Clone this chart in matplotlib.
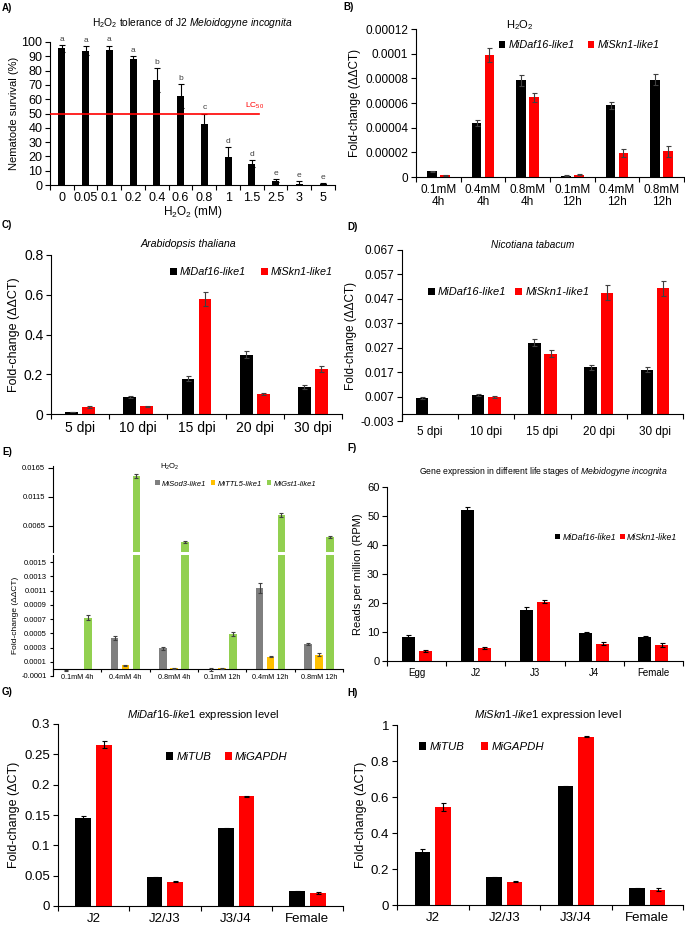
import matplotlib
matplotlib.use('Agg')
import matplotlib.pyplot as plt
from matplotlib.patches import Patch
import numpy as np

plt.rcParams['font.family'] = ['Liberation Sans', 'DejaVu Sans']
plt.rcParams['mathtext.fontset'] = 'custom'
plt.rcParams['mathtext.rm'] = 'Liberation Sans'
plt.rcParams['mathtext.it'] = 'Liberation Sans:italic'
plt.rcParams['mathtext.bf'] = 'Liberation Sans:bold'

# A) H2O2 tolerance
A_conc = ['0', '0.05', '0.1', '0.2', '0.4', '0.6', '0.8', '1', '1.5', '2.5', '3', '5']
A_surv = [95.5, 94, 94.5, 88, 73.5, 62, 43, 19.5, 15, 3, 1, 1]
A_err = [2.5, 3, 3, 2, 8.5, 8.5, 7, 7, 2.5, 1, 1.5, 0.5]
A_letters = ['a', 'a', 'a', 'a', 'b', 'b', 'c', 'd', 'd', 'e', 'e', 'e']
LC50 = 50

# B) H2O2 treatment
B_cats = ['0.1mM\n4h', '0.4mM\n4h', '0.8mM\n4h', '0.1mM\n12h', '0.4mM\n12h', '0.8mM\n12h']
B_daf = [4.5e-6, 43.5e-6, 78.5e-6, 1e-6, 58e-6, 79e-6]
B_daf_err = [0.5e-6, 2.5e-6, 4.5e-6, 0.5e-6, 2.5e-6, 4.5e-6]
B_skn = [1.5e-6, 99e-6, 64.5e-6, 2e-6, 19.5e-6, 21e-6]
B_skn_err = [0.5e-6, 5.5e-6, 4e-6, 0.3e-6, 3.5e-6, 4.5e-6]

# C) Arabidopsis
dpi_cats = ['5 dpi', '10 dpi', '15 dpi', '20 dpi', '30 dpi']
C_daf = [0.010, 0.085, 0.178, 0.298, 0.136]
C_daf_err = [0.002, 0.005, 0.012, 0.018, 0.010]
C_skn = [0.035, 0.038, 0.580, 0.102, 0.228]
C_skn_err = [0.004, 0.004, 0.035, 0.006, 0.015]

# D) Nicotiana
D_daf = [0.0065, 0.0075, 0.029, 0.019, 0.018]
D_daf_err = [0.0004, 0.0004, 0.0015, 0.001, 0.001]
D_skn = [np.nan, 0.0067, 0.0245, 0.0495, 0.0513]
D_skn_err = [np.nan, 0.0004, 0.0015, 0.003, 0.003]

# E) antioxidant genes under H2O2
E_cats = ['0.1mM 4h', '0.4mM 4h', '0.8mM 4h', '0.1mM 12h', '0.4mM 12h', '0.8mM 12h']
E_sod = [-0.00002, 0.00043, 0.00029, -0.00001, 0.00113, 0.00035]
E_sod_err = [0.00001, 0.00003, 0.00002, 0.00002, 0.00007, 0.00002]
E_ttl = [np.nan, 0.00005, 0.00001, 0.00001, 0.00017, 0.0002]
E_ttl_err = [np.nan, 0.000005, 0.000005, 0.000005, 0.00001, 0.00002]
E_gst = [0.00072, 0.0151, 0.0037, 0.00049, 0.0084, 0.0046]
E_gst_err = [0.00004, 0.0004, 0.0002, 0.00003, 0.0003, 0.0002]

# F) life stages RPM
F_stage = ['Egg', 'J2', 'J3', 'J4', 'Female']
F_daf = [8.2, 52, 17.5, 9.5, 8.2]
F_daf_err = [0.6, 1.0, 1.2, 0.5, 0.3]
F_skn = [3.4, 4.5, 20.5, 6.0, 5.5]
F_skn_err = [0.3, 0.3, 0.5, 0.5, 0.8]

# G) / H) expression level
GH_stage = ['J2', 'J2/J3', 'J3/J4', 'Female']
G_tub = [0.145, 0.047, 0.128, 0.024]
G_tub_err = [0.004, 0.001, 0.001, 0.001]
G_gapdh = [0.266, 0.040, 0.181, 0.021]
G_gapdh_err = [0.006, 0.001, 0.001, 0.002]
H_tub = [0.296, 0.155, 0.660, 0.093]
H_tub_err = [0.015, 0.003, 0.002, 0.004]
H_gapdh = [0.543, 0.130, 0.935, 0.085]
H_gapdh_err = [0.022, 0.003, 0.003, 0.008]

W, H = 685, 925
fig = plt.figure(figsize=(6.85, 9.25), dpi=100)
RED = '#ff0000'
GRAY = '#7f7f7f'
YEL = '#ffc000'
GRN = '#92d050'


def panel(l, t, r, b):
    return fig.add_axes([l / W, 1 - b / H, (r - l) / W, (b - t) / H])


def fmt(v):
    if abs(v) < 1e-12:
        return '0'
    return ('%.5f' % v).rstrip('0').rstrip('.')


def style(ax, labels, fs, yticks, ylim, xfs=None, tl=3.5, zero_axis=False, ylab=None):
    n = len(labels)
    for s in ['top', 'right']:
        ax.spines[s].set_visible(False)
    for s in ['left', 'bottom']:
        ax.spines[s].set_linewidth(0.8)
    if zero_axis:
        ax.spines['bottom'].set_position(('data', 0))
    ax.set_xlim(-0.5, n - 0.5)
    ax.set_ylim(*ylim)
    ax.set_xticks(np.arange(n))
    ax.set_xticklabels(labels, fontsize=xfs or fs, linespacing=1.0)
    ax.set_xticks(np.arange(n + 1) - 0.5, minor=True)
    ax.tick_params(axis='x', which='major', length=0, pad=5)
    ax.tick_params(axis='x', which='minor', length=tl, width=0.8, direction='out')
    ax.set_yticks(yticks)
    ax.set_yticklabels(ylab or [fmt(v) for v in yticks], fontsize=fs)
    ax.tick_params(axis='y', length=tl, width=0.8, pad=2)


def bars(ax, series, errs, colors, ecolor='#404040', width=0.22, step=0.29, capsize=1.8):
    k = len(series)
    x = np.arange(len(series[0]))
    for i, (vals, err, c) in enumerate(zip(series, errs, colors)):
        off = (i - (k - 1) / 2) * step
        ax.bar(x + off, vals, width, color=c, zorder=2)
        ax.errorbar(x + off, vals, yerr=err, fmt='none', ecolor=ecolor,
                    elinewidth=0.8, capsize=capsize, capthick=0.8, zorder=3)


def legend(ax, names, colors, x, y, fs, cs=1.5, italic=True, tp=0.3):
    hs = [Patch(facecolor=c, edgecolor='none') for c in colors]
    ax.legend(hs, names, loc='center left', bbox_to_anchor=(x / W, 1 - y / H),
              bbox_transform=fig.transFigure, ncol=len(names), frameon=False,
              prop={'size': fs, 'style': 'italic' if italic else 'normal'},
              handlelength=0.6, handleheight=0.6, handletextpad=tp,
              columnspacing=cs, borderpad=0, borderaxespad=0)


def letter(s, x, y):
    fig.text(x / W, 1 - y / H, s, fontsize=7, fontweight='bold', va='center', ha='left')


# ---- A
ax = panel(50, 42, 335, 185)
x = np.arange(len(A_conc))
ax.bar(x, A_surv, 0.3, color='black', zorder=2)
ax.errorbar(x, A_surv, yerr=A_err, fmt='none', ecolor='black', elinewidth=0.8,
            capsize=2, capthick=0.8, zorder=3)
for xi, v, e, s in zip(x, A_surv, A_err, A_letters):
    ax.text(xi, v + e + 1.5, s, ha='center', va='bottom', fontsize=6, color='#404040')
style(ax, A_conc, 9, np.arange(0, 101, 10), (0, 100))
ax.plot([-0.5, 8.3], [LC50, LC50], color=RED, lw=1.2, zorder=4)
ax.text(7.7, LC50 + 2, 'LC$_{50}$', color=RED, fontsize=6, va='bottom')
ax.set_ylabel('Nematode survival (%)', fontsize=8, labelpad=2)
ax.set_xlabel('H$_2$O$_2$ (mM)', fontsize=8.5, labelpad=0)
fig.text(192 / W, 1 - 23 / H, r'H$_2$O$_2$ tolerance of J2 $\mathit{Meloidogyne\ incognita}$',
         fontsize=7.4, ha='center', va='center')
letter('A)', 2, 8)

# ---- B
ax = panel(416, 29, 684, 177)
bars(ax, [B_daf, B_skn], [B_daf_err, B_skn_err], ['black', RED])
style(ax, B_cats, 8.5, np.arange(0, 0.000121, 0.00002), (0, 0.00012))
ax.set_ylabel('Fold-change (\u0394\u0394CT)', fontsize=8.5, labelpad=3)
fig.text(520 / W, 1 - 25 / H, 'H$_2$O$_2$', fontsize=8, ha='center', va='center')
legend(ax, ['MiDaf16-like1', 'MiSkn1-like1'], ['black', RED], 499, 45, 7.8, cs=1.2)
letter('B)', 343, 7)

# ---- C
ax = panel(51, 255, 342, 414)
bars(ax, [C_daf, C_skn], [C_daf_err, C_skn_err], ['black', RED])
style(ax, dpi_cats, 10, [0, 0.2, 0.4, 0.6, 0.8], (0, 0.8))
ax.set_ylabel('Fold-change (\u0394\u0394CT)', fontsize=9, labelpad=3)
fig.text(188 / W, 1 - 244 / H, 'Arabidopsis thaliana', fontsize=7.7, style='italic',
         ha='center', va='center')
legend(ax, ['MiDaf16-like1', 'MiSkn1-like1'], ['black', RED], 170, 272, 7.8, cs=1.4)
letter('C)', 2, 225)

# ---- D
ax = panel(402, 250, 683, 421)
bars(ax, [D_daf, D_skn], [D_daf_err, D_skn_err], ['black', RED])
d_ticks = np.arange(-0.003, 0.0671, 0.01)
style(ax, dpi_cats, 8.5, d_ticks, (-0.003, 0.067), zero_axis=True,
      ylab=['%.3f' % v for v in d_ticks])
ax.tick_params(axis='x', which='major', pad=9)
ax.set_ylabel('Fold-change (\u0394\u0394CT)', fontsize=8.5, labelpad=3)
fig.text(533 / W, 1 - 245 / H, 'Nicotiana tabacum', fontsize=7.2, style='italic',
         ha='center', va='center')
legend(ax, ['MiDaf16-like1', 'MiSkn1-like1'], ['black', RED], 428, 292, 8, cs=0.8)
letter('D)', 347, 227)

# ---- E (broken axis)
E_series = [E_sod, E_ttl, E_gst]
E_errs = [E_sod_err, E_ttl_err, E_gst_err]
E_cols = [GRAY, YEL, GRN]
axt = panel(53, 466, 343, 552)
bars(axt, E_series, E_errs, E_cols, width=0.16, step=0.226, capsize=1.2)
style(axt, E_cats, 5.5, [0.0065, 0.0115, 0.0165], (0.002, 0.0168),
      ylab=['0.0065', '0.0115', '0.0165'])
axt.spines['bottom'].set_visible(False)
axt.tick_params(axis='x', which='both', length=0, labelbottom=False)
axl = panel(53, 555, 343, 676)
bars(axl, E_series, E_errs, E_cols, width=0.16, step=0.226, capsize=1.2)
lt = np.arange(-0.0001, 0.00151, 0.0002)
style(axl, E_cats, 5.5, lt, (-0.0001, 0.0016), xfs=5.2, tl=2.5, zero_axis=True,
      ylab=['%.4f' % v for v in lt])
axl.tick_params(axis='x', which='major', pad=4)
axl.set_ylabel('Fold-change (\u0394\u0394CT)', fontsize=6, labelpad=2)
fig.text(170 / W, 1 - 467 / H, 'H$_2$O$_2$', fontsize=5.5, ha='center', va='center')
legend(axt, ['MiSod3-like1', 'MiTTL5-like1', 'MiGst1-like1'], E_cols, 155, 484, 5.5, cs=0.6)
letter('E)', 2, 452)

# ---- F
ax = panel(387, 487, 683, 661)
bars(ax, [F_daf, F_skn], [F_daf_err, F_skn_err], ['black', RED], ecolor='black')
style(ax, F_stage, 8, np.arange(0, 61, 10), (0, 60), xfs=7)
ax.set_ylabel('Reads per million (RPM)', fontsize=8, labelpad=3)
fig.text(543 / W, 1 - 472 / H,
         r'Gene expression in different life stages of $\mathit{Meloidogyne\ incognita}$',
         fontsize=6.2, ha='center', va='center')
legend(ax, ['MiDaf16-like1', 'MiSkn1-like1'], ['black', RED], 555, 537, 6.3, cs=0.4, tp=0.25)
letter('F)', 347, 448)

# ---- G
ax = panel(58, 724, 343, 906)
bars(ax, [G_tub, G_gapdh], [G_tub_err, G_gapdh_err], ['black', RED], ecolor='black')
style(ax, GH_stage, 9.5, [0, 0.05, 0.1, 0.15, 0.2, 0.25, 0.3], (0, 0.3))
ax.set_ylabel('Fold-change (\u0394CT)', fontsize=9, labelpad=3)
fig.text(203 / W, 1 - 715 / H, r'$\mathit{MiDaf16}$-$\mathit{like1}$ expression level',
         fontsize=8, ha='center', va='center')
legend(ax, ['MiTUB', 'MiGAPDH'], ['black', RED], 166, 757, 8.2, cs=1.2)
letter('G)', 2, 692)

# ---- H
ax = panel(397, 725, 683, 905)
bars(ax, [H_tub, H_gapdh], [H_tub_err, H_gapdh_err], ['black', RED], ecolor='black')
style(ax, GH_stage, 9.5, [0, 0.2, 0.4, 0.6, 0.8, 1.0], (0, 1))
ax.set_ylabel('Fold-change (\u0394CT)', fontsize=9, labelpad=3)
fig.text(548 / W, 1 - 715 / H, r'$\mathit{MiSkn1}$-$\mathit{like1}$ expression level',
         fontsize=8, ha='center', va='center')
legend(ax, ['MiTUB', 'MiGAPDH'], ['black', RED], 419, 747, 8.2, cs=1.5)
letter('H)', 347, 693)

fig.savefig('out.png', dpi=100)
